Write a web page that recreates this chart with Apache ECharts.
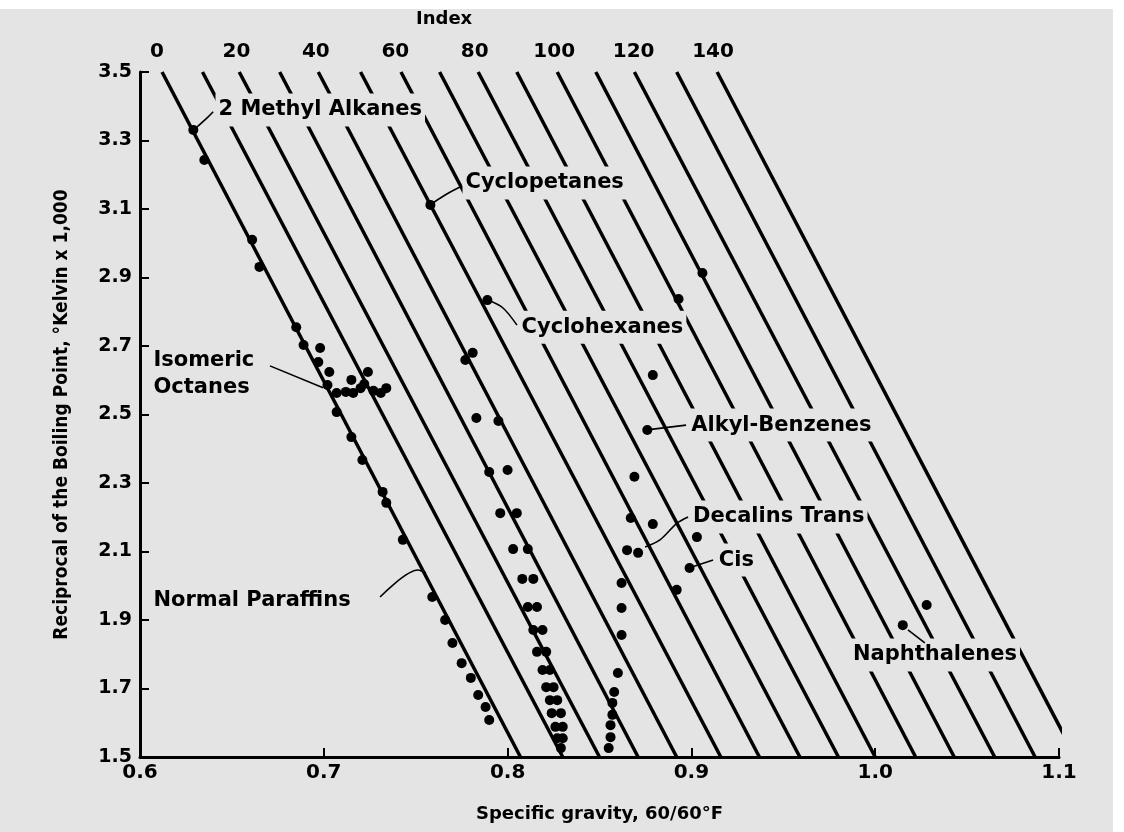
<!DOCTYPE html>
<html><head><meta charset="utf-8">
<script src="https://cdn.jsdelivr.net/npm/echarts@6/dist/echarts.min.js"></script>
<style>html,body{margin:0;padding:0;background:#fff}#c{width:1124px;height:832px}</style>
</head><body><div id="c"></div>
<script>
// ---------- data ----------
const xTicks = [0.6, 0.7, 0.8, 0.9, 1.0, 1.1];
const yTicks = [1.5, 1.7, 1.9, 2.1, 2.3, 2.5, 2.7, 2.9, 3.1, 3.3, 3.5];
const indexTickLabels = [0, 20, 40, 60, 80, 100, 120, 140];
const indexValues = [0, 10, 20, 30, 40, 50, 60, 70, 80, 90, 100, 110, 120, 130, 140];
// specific gravity where each index line meets 3.5 (top) and 1.5 (bottom)
const indexLineTop    = [0.612, 0.634, 0.654, 0.676, 0.697, 0.720, 0.742, 0.763, 0.784, 0.805, 0.827, 0.848, 0.869, 0.892, 0.914];
const indexLineBottom = [0.807, 0.830, 0.850, 0.871, 0.892, 0.916, 0.937, 0.959, 0.980, 1.000, 1.022, 1.043, 1.065, 1.087, 1.109];

const methylAlkanes = [[0.629,3.331],[0.635,3.243],[0.661,3.010],[0.665,2.931]];
const isomericOctanes = [[0.685,2.755],[0.689,2.703],[0.698,2.694],[0.697,2.653],[0.703,2.624],[0.724,2.624],[0.702,2.586],[0.707,2.563],[0.712,2.566],[0.716,2.563],[0.720,2.577],[0.722,2.589],[0.727,2.569],[0.731,2.563],[0.734,2.577],[0.715,2.601]];
const normalParaffins = [[0.707,2.507],[0.715,2.434],[0.721,2.367],[0.732,2.274],[0.734,2.242],[0.743,2.134],[0.759,1.967],[0.766,1.900],[0.770,1.833],[0.775,1.774],[0.780,1.731],[0.784,1.681],[0.788,1.646],[0.790,1.608]];
const cyclopentanes = [[0.758,3.112],[0.777,2.659],[0.781,2.680],[0.783,2.490],[0.790,2.332],[0.796,2.212],[0.803,2.107],[0.808,2.020],[0.811,1.938],[0.814,1.871],[0.816,1.807],[0.819,1.754],[0.821,1.704],[0.823,1.666],[0.824,1.628],[0.826,1.588],[0.827,1.555]];
const cyclohexanes = [[0.789,2.834],[0.795,2.481],[0.800,2.338],[0.805,2.212],[0.811,2.107],[0.814,2.020],[0.816,1.938],[0.819,1.871],[0.821,1.807],[0.823,1.754],[0.825,1.704],[0.827,1.666],[0.829,1.628],[0.830,1.588],[0.830,1.555],[0.829,1.526]];
const alkylBenzenes = [[0.893,2.837],[0.906,2.913],[0.879,2.615],[0.876,2.455],[0.869,2.318],[0.867,2.198],[0.865,2.104],[0.862,2.008],[0.862,1.935],[0.862,1.856],[0.860,1.745],[0.858,1.690],[0.857,1.658],[0.857,1.623],[0.856,1.593],[0.856,1.558],[0.855,1.526]];
const decalins = [[0.879,2.180],[0.871,2.096],[0.903,2.142],[0.899,2.052],[0.892,1.988]];
const naphthalenes = [[1.015,1.885],[1.028,1.944]];

const annotationTexts = ['2 Methyl Alkanes','Cyclopetanes','Cyclohexanes','Isomeric\nOctanes','Alkyl-Benzenes','Decalins Trans','Cis','Naphthalenes','Normal Paraffins'];
const annotationAnchors = [[0.6408,3.389],[0.7752,3.176],[0.8057,2.755],[0.6054,2.618],[0.898,2.469],[0.899,2.201],[0.913,2.075],[0.986,1.798],[0.6054,1.958]];
const leaders = [
  [[0.6305,3.337],[0.6365,3.366],[0.6398,3.384]],
  [[0.7578,3.112],[0.766,3.141],[0.7741,3.164]],
  [[0.7893,2.834],[0.7975,2.811],[0.8051,2.761]],
  [[0.6707,2.642],[0.6996,2.578]],
  [[0.8758,2.455],[0.8971,2.469]],
  [[0.8748,2.113],[0.8829,2.134],[0.8922,2.183],[0.8982,2.201]],
  [[0.9003,2.055],[0.9118,2.075]],
  [[1.0178,1.871],[1.027,1.833]],
  [[0.7306,1.967],[0.7512,2.046],[0.7556,2.037]]
];

// ---------- chart ----------
const BG = '#e4e4e4';
const FONT = "'DejaVu Sans', 'Liberation Sans', sans-serif";
const chart = echarts.init(document.getElementById('c'), null, {renderer: 'canvas'});

const series = [];
indexValues.forEach((v, i) => {
  series.push({
    type: 'line', name: 'Index ' + v, xAxisIndex: 0, yAxisIndex: 0,
    data: [[indexLineTop[i], 3.5], [indexLineBottom[i], 1.5]],
    symbol: 'none', clip: true, z: 2, silent: true,
    lineStyle: {color: '#000', width: 3.5, opacity: 1}
  });
});
leaders.forEach((pts, i) => {
  series.push({
    type: 'line', name: 'leader' + i, data: pts, symbol: 'none', z: 6, silent: true,
    smooth: 0.3, lineStyle: {color: '#000', width: 1.6, opacity: 1}
  });
});
[['2 Methyl Alkanes', methylAlkanes], ['Isomeric Octanes', isomericOctanes], ['Normal Paraffins', normalParaffins],
 ['Cyclopentanes', cyclopentanes], ['Cyclohexanes', cyclohexanes], ['Alkyl-Benzenes', alkylBenzenes],
 ['Decalins', decalins], ['Naphthalenes', naphthalenes]].forEach(([n, d]) => {
  series.push({type: 'scatter', name: n, data: d, symbol: 'circle', symbolSize: 10, z: 7,
    itemStyle: {color: '#000', opacity: 1}});
});
series.push({
  type: 'scatter', name: 'labels', z: 5, symbolSize: 1, itemStyle: {color: 'rgba(0,0,0,0)', opacity: 1},
  data: annotationTexts.map((t, i) => ({value: annotationAnchors[i], name: t})),
  label: {show: true, position: 'right', distance: 0, formatter: p => p.name, opacity: 1,
    fontFamily: FONT, fontWeight: 'bold', fontSize: 21, color: '#000', lineHeight: 27,
    backgroundColor: BG, padding: [3, 3, 3, 3]}
});

chart.setOption({
  animation: false,
  backgroundColor: BG,
  grid: {left: 140, right: 65, top: 72, bottom: 75, containLabel: false},
  xAxis: [{
    type: 'value', min: 0.6, max: 1.1, position: 'bottom',
    name: 'Specific gravity, 60/60°F', nameLocation: 'middle', nameGap: 48,
    nameTextStyle: {fontFamily: FONT, fontWeight: 'bold', fontSize: 18, color: '#000'},
    axisLine: {show: true, onZero: false, lineStyle: {color: '#000', width: 3}},
    axisTick: {show: true, inside: true, length: 9, lineStyle: {color: '#000', width: 2}, customValues: xTicks},
    axisLabel: {fontFamily: FONT, fontWeight: 'bold', fontSize: 20, color: '#000', margin: 6,
      customValues: xTicks, formatter: v => v.toFixed(1)},
    splitLine: {show: false}
  }, {
    type: 'value', min: -4.28, max: 227.1, position: 'top',
    name: '', axisLine: {show: false}, axisTick: {show: false},
    axisLabel: {fontFamily: FONT, fontWeight: 'bold', fontSize: 20, color: '#000', margin: 10,
      customValues: indexTickLabels, formatter: v => String(Math.round(v))},
    splitLine: {show: false}
  }],
  yAxis: {
    type: 'value', min: 1.5, max: 3.5,
    name: 'Reciprocal of the Boiling Point, °Kelvin x 1,000', nameLocation: 'middle', nameGap: 68, nameRotate: 90,
    nameTextStyle: {fontFamily: "'Liberation Sans Narrow', 'DejaVu Sans Condensed', 'DejaVu Sans', sans-serif", fontWeight: 'bold', fontSize: 19, color: '#000'},
    axisLine: {show: true, onZero: false, lineStyle: {color: '#000', width: 3}},
    axisTick: {show: true, inside: true, length: 9, lineStyle: {color: '#000', width: 2}, customValues: yTicks},
    axisLabel: {fontFamily: FONT, fontWeight: 'bold', fontSize: 19, color: '#000', margin: 8,
      customValues: yTicks, formatter: v => v.toFixed(1)},
    splitLine: {show: false}
  },
  graphic: [
    {type: 'text', left: 416, top: 10, style: {text: 'Index', font: "bold 18px 'DejaVu Sans'", fill: '#000'}},
    {type: 'rect', left: 0, top: 0, shape: {width: 1124, height: 9}, style: {fill: '#fff'}},
    {type: 'rect', left: 1113, top: 0, shape: {width: 11, height: 832}, style: {fill: '#fff'}}
  ],
  series: series
});
</script></body></html>
